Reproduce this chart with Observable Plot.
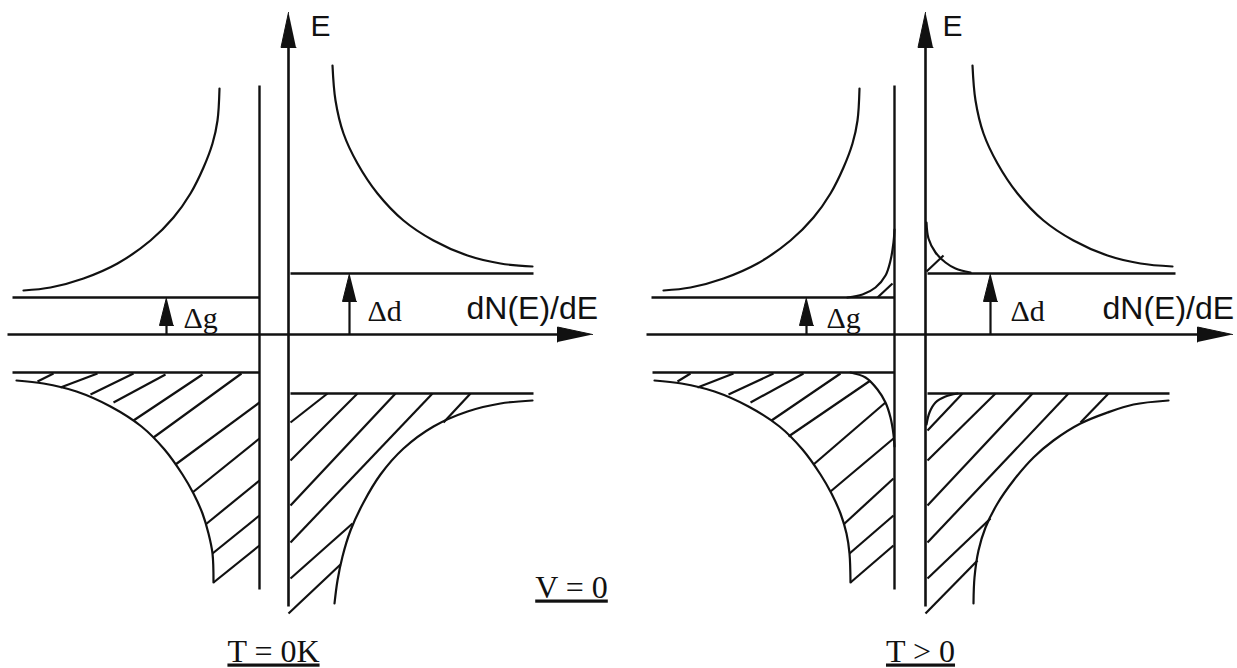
<!DOCTYPE html>
<html>
<head>
<meta charset="utf-8">
<script src="https://cdn.jsdelivr.net/npm/d3@7"></script>
<script src="https://cdn.jsdelivr.net/npm/@observablehq/plot@0.6"></script>
<style>
  html, body { margin: 0; padding: 0; background: #fff; }
  #chart svg { display: block; }
</style>
</head>
<body>
<div id="chart"></div>
<script>
// Units: horizontal = dN(E)/dE offset from each panel's E axis, vertical = E (both arbitrary units)
const panels = ["T = 0K", "T > 0"];

// axis arrows: [panel, x start, y start, x tip, y tip]
const axisArrows = [
  ["T = 0K", 0, -272, 0, 322],
  ["T = 0K", -281, 0, 304, 0],
  ["T > 0", 0, -272, 0, 322],
  ["T > 0", -279, 0, 307, 0]
];
// gap arrows Δg / Δd
const gapArrows = [
  ["T = 0K", -122, 0, -122, 37],
  ["T = 0K", 61, 0, 61, 61],
  ["T > 0", -119, 0, -119, 37],
  ["T > 0", 65, 0, 65, 61]
];
// electrode edge and gap-edge levels
const levelLines = [
  ["T = 0K", -29, 249, -29, -255],
  ["T = 0K", -276, 37, -29, 37],
  ["T = 0K", 2, 61, 245, 61],
  ["T = 0K", -276, -38, -29, -38],
  ["T = 0K", 2, -59, 245, -59],
  ["T > 0", -31, 249, -31, -255],
  ["T > 0", -274, 37, -31, 37],
  ["T > 0", 2, 61, 250, 61],
  ["T > 0", -273, -38, -31, -38],
  ["T > 0", 2, -59, 244, -59]
];

// density-of-states curves, T = 0K
const upperLeft0K = [[-265,44],[-238,47],[-205,56],[-171,71],[-138,94],[-115,117],[-98,141],[-85,167],[-76,191],[-71,214],[-69,246]];
const upperRight0K = [[44,269],[47,234],[55,201],[69,171],[89,141],[115,114],[145,94],[179,79],[212,71],[244,68]];
const lowerLeft0K = [[-272,-46],[-245,-49],[-212,-57],[-178,-72],[-147,-92],[-124,-115],[-106,-140],[-95,-159],[-86,-179],[-80,-199],[-76,-219],[-75,-248]];
const lowerRight0K = [[244,-66],[212,-69],[179,-77],[145,-92],[115,-114],[92,-140],[75,-168],[62,-196],[54,-222],[49,-246],[46,-269]];

// density-of-states curves, T > 0
const upperLeftT = [[-262,44],[-235,47],[-202,56],[-168,71],[-135,94],[-112,117],[-95,141],[-82,167],[-73,191],[-68,214],[-66,246]];
const upperRightT = [[47,269],[50,234],[58,201],[72,171],[92,141],[118,114],[148,94],[182,79],[215,71],[247,68]];
const lowerLeftT = [[-271,-46],[-244,-49],[-211,-57],[-177,-72],[-146,-92],[-123,-115],[-105,-140],[-94,-159],[-85,-179],[-79,-199],[-76,-219],[-75,-248]];
const lowerRightT = [[243,-66],[208,-70],[182,-78],[155,-89],[128,-106],[108,-123],[88,-146],[72,-169],[60,-193],[53,-216],[49,-243],[48,-269]];
// thermal tails, T > 0
const tailUpperLeftT = [[-31,105],[-32,92],[-35,74],[-40,59],[-50,47],[-63,40],[-78,37]];
const tailUpperRightT = [[1,112],[3,96],[10,82],[20,72],[30,66],[45,62]];
const tailLowerLeftT = [[-75,-38],[-60,-43],[-48,-55],[-40,-68],[-35,-83],[-32,-100],[-31,-112]];
const tailLowerRightT = [[1,-90],[4,-78],[10,-68],[20,-62],[32,-59]];

// hatching (occupied states): [x1, y1, x2, y2]
const hatch0K = [
  [-251,-47,-235,-39],[-228,-53,-191,-39],[-198,-60,-155,-39],[-175,-68,-123,-40],[-155,-86,-86,-40],
  [-135,-103,-47,-39],[-113,-130,-29,-68],[-96,-158,-29,-104],[-83,-190,-29,-146],[-76,-219,-29,-181],[-75,-248,-29,-211],
  [2,-88,39,-59],[2,-126,69,-59],[2,-171,107,-59],[2,-208,144,-59],[182,-59,155,-88],[64,-189,2,-244],[52,-230,0,-279]
];
const hatchT = [
  [-248,-47,-235,-39],[-228,-53,-192,-39],[-197,-60,-152,-39],[-175,-68,-122,-39],[-154,-86,-85,-39],
  [-137,-102,-55,-46],[-112,-130,-40,-68],[-95,-157,-32,-104],[-82,-190,-32,-144],[-76,-219,-32,-181],[-75,-248,-32,-211],
  [-48,37,-33,51],[1,63,18,79],
  [2,-96,37,-59],[2,-126,70,-59],[2,-171,107,-59],[2,-208,143,-59],[183,-59,155,-88],[65,-184,2,-244],[52,-226,0,-279]
];

// labels: [panel, x, y, text]
const labelE = [["T = 0K", 22, 299, "E"], ["T > 0", 17, 299, "E"]];
const labelAxisX = [["T = 0K", 178, 16, "dN(E)/dE"], ["T > 0", 177, 16, "dN(E)/dE"]];
const labelGaps = [["T = 0K", -105, 7, "Δg"], ["T = 0K", 79, 14, "Δd"], ["T > 0", -99, 7, "Δg"], ["T > 0", 85, 14, "Δd"]];
const captions = [["T = 0K", -15, -327, "T = 0K"], ["T > 0", -5, -327, "T > 0"], ["T = 0K", 283, -263, "V = 0"]];

// ---- build tables ----
const seg = (panel, a) => ({panel, x1: a[0], y1: a[1], x2: a[2], y2: a[3]});
const levels = levelLines.map(d => seg(d[0], d.slice(1)));
const hatches = [...hatch0K.map(a => seg(panels[0], a)), ...hatchT.map(a => seg(panels[1], a))];

const curveDefs = [
  [panels[0], upperLeft0K], [panels[0], upperRight0K], [panels[0], lowerLeft0K], [panels[0], lowerRight0K],
  [panels[1], upperLeftT], [panels[1], upperRightT], [panels[1], lowerLeftT], [panels[1], lowerRightT],
  [panels[1], tailUpperLeftT], [panels[1], tailUpperRightT], [panels[1], tailLowerLeftT], [panels[1], tailLowerRightT]
];
const curves = curveDefs.flatMap(([panel, pts], i) => pts.map(([x, y]) => ({panel, id: i, x, y})));

function arrowParts(list, headLen, headHalf, prefix) {
  const shafts = [], heads = [];
  list.forEach(([panel, x1, y1, x2, y2], i) => {
    const dx = x2 - x1, dy = y2 - y1, L = Math.hypot(dx, dy), ux = dx / L, uy = dy / L;
    const bx = x2 - ux * headLen, by = y2 - uy * headLen;
    shafts.push({panel, x1, y1, x2: x2 - ux * headLen * 0.5, y2: y2 - uy * headLen * 0.5});
    const id = prefix + i;
    heads.push({panel, id, x: x2, y: y2});
    heads.push({panel, id, x: bx - uy * headHalf, y: by + ux * headHalf});
    heads.push({panel, id, x: bx + uy * headHalf, y: by - ux * headHalf});
  });
  return {shafts, heads};
}
const axisA = arrowParts(axisArrows, 35, 7.5, "a");
const gapA = arrowParts(gapArrows, 28, 7, "g");

const toLabel = d => ({panel: d[0], x: d[1], y: d[2], text: d[3]});
const sans = "Liberation Sans, Arial, Helvetica, sans-serif";
const serif = "Liberation Serif, Times New Roman, serif";

const chart = Plot.plot({
  width: 1237,
  height: 668,
  margin: 0,
  style: {background: "#fff", color: "#000"},
  x: {domain: [-288, 312], axis: null},
  y: {domain: [-334, 334], axis: null},
  fx: {domain: panels, axis: null, paddingInner: 1 - 600 / 637, paddingOuter: 0, align: 0, round: false},
  marks: [
    Plot.link(hatches, {fx: "panel", x1: "x1", y1: "y1", x2: "x2", y2: "y2", stroke: "#111", strokeWidth: 2.2}),
    Plot.link(levels, {fx: "panel", x1: "x1", y1: "y1", x2: "x2", y2: "y2", stroke: "#111", strokeWidth: 2.4}),
    Plot.line(curves, {fx: "panel", x: "x", y: "y", z: "id", curve: "catmull-rom", stroke: "#111", strokeWidth: 2.2}),
    Plot.link([...axisA.shafts], {fx: "panel", x1: "x1", y1: "y1", x2: "x2", y2: "y2", stroke: "#111", strokeWidth: 2.6}),
    Plot.link([...gapA.shafts], {fx: "panel", x1: "x1", y1: "y1", x2: "x2", y2: "y2", stroke: "#111", strokeWidth: 2.2}),
    Plot.line([...axisA.heads, ...gapA.heads], {fx: "panel", x: "x", y: "y", z: "id", fill: "#111", stroke: "#111", strokeWidth: 1}),
    Plot.text(labelE.map(toLabel), {fx: "panel", x: "x", y: "y", text: "text", textAnchor: "start", lineAnchor: "bottom", fontFamily: sans, fontSize: 30, fill: "#111"}),
    Plot.text(labelAxisX.map(toLabel), {fx: "panel", x: "x", y: "y", text: "text", textAnchor: "start", lineAnchor: "bottom", fontFamily: sans, fontSize: 32, fill: "#111"}),
    Plot.text(labelGaps.map(toLabel), {fx: "panel", x: "x", y: "y", text: "text", textAnchor: "start", lineAnchor: "bottom", fontFamily: serif, fontSize: 30, fill: "#111"}),
    Plot.text(captions.map(toLabel), {fx: "panel", x: "x", y: "y", text: "text", textAnchor: "middle", lineAnchor: "bottom", fontFamily: serif, fontSize: 32, fill: "#111"})
  ]
});

const underlined = new Set(captions.map(d => d[3]));
d3.select(chart).selectAll("text")
  .filter(function() { return underlined.has(this.textContent); })
  .attr("text-decoration", "underline");

document.getElementById("chart").appendChild(chart);
</script>
</body>
</html>
